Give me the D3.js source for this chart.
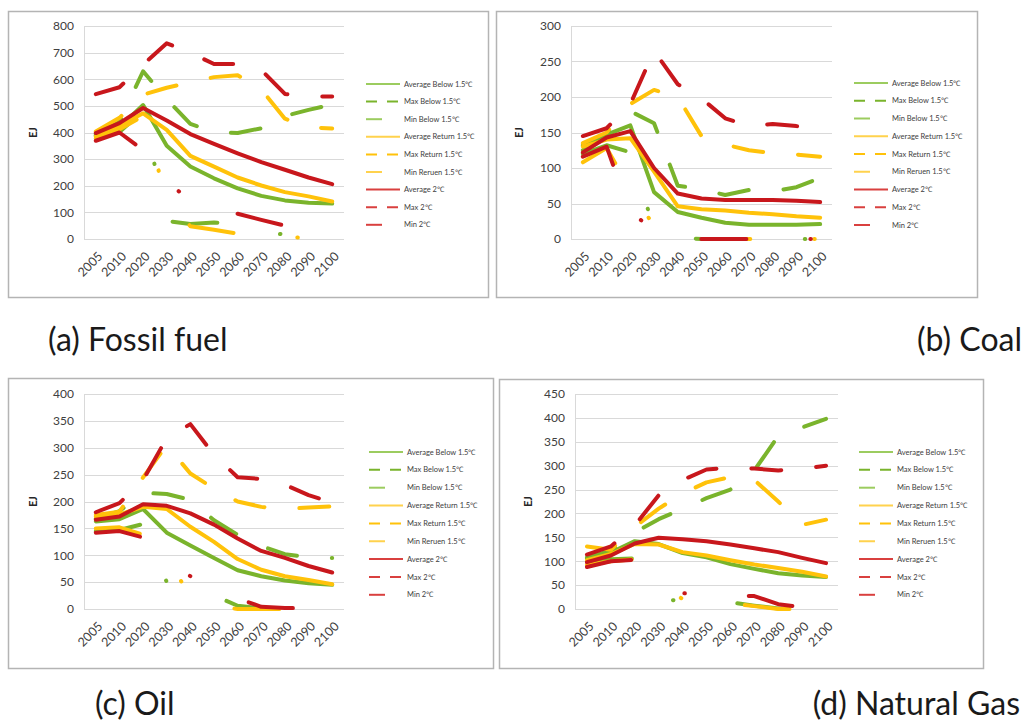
<!DOCTYPE html>
<html>
<head>
<meta charset="utf-8">
<script src="https://cdn.jsdelivr.net/npm/d3@7"></script>
<style>
  html, body { margin: 0; padding: 0; background: #fff; }
  svg { display: block; }
</style>
</head>
<body>
<script>
// ---------------- DATA ----------------
const years = ["2005","2010","2020","2030","2040","2050","2060","2070","2080","2090","2100"];

const seriesNames = [
  "Average Below 1.5℃", "Max Below 1.5℃", "Min Below 1.5℃",
  "Average Return 1.5℃", "Max Return 1.5℃", "Min Reruen 1.5℃",
  "Average 2℃", "Max 2℃", "Min 2℃"
];

// (a) Fossil fuel
const fossilTicks = [0,100,200,300,400,500,600,700,800];
const fossilAvgBelow  = [390, 420, 503, 350, 272, 228, 190, 162, 145, 136, 133];
const fossilMaxBelow  = [395, 440, 630, 525, 432, 402, 398, 416, 462, 485, 505];
const fossilMinBelow  = [388, 402, 480, 68, 56, 62, 58, 30, 16, 8, 4];
const fossilAvgReturn = [385, 425, 472, 410, 312, 272, 231, 201, 176, 160, 141];
const fossilMaxReturn = [404, 455, 542, 568, 588, 608, 615, 562, 452, 420, 415];
const fossilMinReturn = [378, 412, 462, 150, 48, 35, 20, 10, 7, 4, 2];
const fossilAvg2      = [398, 435, 492, 445, 394, 357, 322, 289, 260, 231, 206];
const fossilMax2      = [544, 570, 655, 735, 700, 657, 657, 635, 545, 535, 535];
const fossilMin2      = [369, 400, 334, 220, 140, 115, 95, 72, 50, 30, 20];

// (b) Coal
const coalTicks = [0,50,100,150,200,250,300];
const coalAvgBelow  = [125, 147, 160, 66, 38, 30, 23, 20, 20, 20, 21];
const coalMaxBelow  = [132, 148, 180, 163, 75, 70, 62, 69, 67, 73, 86];
const coalMinBelow  = [120, 132, 122, 14, 2, 0, 0, 0, 0, 0, 0];
const coalAvgReturn = [130, 140, 142, 95, 46, 42, 40, 37, 35, 32, 30];
const coalMaxReturn = [135, 150, 190, 210, 200, 145, 133, 125, 121, 119, 116];
const coalMinReturn = [108, 128, 70, 18, 0, 0, 0, 0, 0, 0, 0];
const coalAvg2      = [122, 143, 152, 100, 64, 57, 55, 55, 55, 54, 52];
const coalMax2      = [145, 156, 190, 265, 218, 198, 170, 159, 162, 159, 158];
const coalMin2      = [116, 130, 36, 15, 3, 0, 0, 0, 0, 0, 0];

// (c) Oil
const oilTicks = [0,50,100,150,200,250,300,350,400];
const oilAvgBelow  = [163, 167, 186, 142, 118, 95, 72, 61, 53, 48, 45];
const oilMaxBelow  = [168, 182, 216, 214, 203, 165, 138, 117, 102, 96, 95];
const oilMinBelow  = [145, 147, 158, 50, 35, 25, 6, 1, 0, 0, 0];
const oilAvgReturn = [172, 176, 190, 186, 153, 125, 93, 73, 61, 54, 46];
const oilMaxReturn = [175, 181, 245, 305, 252, 224, 200, 190, 186, 189, 191];
const oilMinReturn = [150, 152, 138, 98, 22, 5, 0, 0, 0, 0, 0];
const oilAvg2      = [166, 172, 195, 192, 178, 157, 131, 108, 95, 80, 68];
const oilMax2      = [180, 197, 240, 318, 344, 287, 245, 242, 231, 212, 198];
const oilMin2      = [142, 145, 133, 90, 61, 40, 20, 4, 2, 1, 0];

// (d) Natural Gas
const gasTicks = [0,50,100,150,200,250,300,350,400,450];
const gasAvgBelow  = [106, 118, 142, 136, 117, 108, 94, 84, 75, 70, 67];
const gasMaxBelow  = [108, 122, 160, 188, 210, 232, 250, 290, 362, 380, 398];
const gasMinBelow  = [100, 104, 106, 22, 16, 15, 14, 7, 1, 0, 0];
const gasAvgReturn = [102, 115, 136, 135, 119, 112, 102, 93, 86, 78, 68];
const gasMaxReturn = [131, 124, 172, 210, 242, 265, 276, 270, 225, 176, 187];
const gasMinReturn = [92, 100, 104, 50, 21, 18, 12, 6, 0, 0, 0];
const gasAvg2      = [98, 112, 137, 149, 146, 142, 135, 127, 119, 107, 96];
const gasMax2      = [114, 131, 175, 238, 270, 292, 296, 294, 290, 293, 300];
const gasMin2      = [88, 100, 103, 60, 33, 30, 29, 27, 10, 4, 2];

const captions = ["(a) Fossil fuel", "(b) Coal", "(c) Oil", "(d) Natural Gas"];

// ---------------- STYLE / LAYOUT ----------------
const GREEN = "#7ab42c", YELLOW = "#ffc20a", RED = "#c8171c";
const colors = [GREEN, GREEN, GREEN, YELLOW, YELLOW, YELLOW, RED, RED, RED];
const legendColors = ["#9ccc5f", "#7ab42c", "#9ccc5f", "#ffd24d", "#ffc20a", "#ffd24d", "#d9403f", "#d9403f", "#d9403f"];
const kinds  = ["avg","max","min","avg","max","min","avg","max","min"];
const dashPlot = { avg: null, max: "30,35", min: "45,64,0.5,64" };
const dashLegend = { avg: null, max: "11,10", min: null };
const legendLen = { avg: 34, max: 32, min: 16 };
const FONT = "Lato, 'Open Sans', sans-serif";

const panels = [
  { box:[8,11,488,297], plot:[84,26,344,239], ticks:fossilTicks, max:800, ejX:33,
    legend:[366,84,17.6],
    data:[fossilAvgBelow,fossilMaxBelow,fossilMinBelow,fossilAvgReturn,fossilMaxReturn,fossilMinReturn,fossilAvg2,fossilMax2,fossilMin2] },
  { box:[496,11,977,297], plot:[571,26,832,239], ticks:coalTicks, max:300, ejX:519,
    legend:[854,83,17.75],
    data:[coalAvgBelow,coalMaxBelow,coalMinBelow,coalAvgReturn,coalMaxReturn,coalMinReturn,coalAvg2,coalMax2,coalMin2] },
  { box:[8,378,493,668], plot:[84,394,344,609], ticks:oilTicks, max:400, ejX:33,
    legend:[369,452,17.85],
    data:[oilAvgBelow,oilMaxBelow,oilMinBelow,oilAvgReturn,oilMaxReturn,oilMinReturn,oilAvg2,oilMax2,oilMin2] },
  { box:[499,379,983,668], plot:[575,394,838,609], ticks:gasTicks, max:450, ejX:528,
    legend:[859,452,17.85],
    data:[gasAvgBelow,gasMaxBelow,gasMinBelow,gasAvgReturn,gasMaxReturn,gasMinReturn,gasAvg2,gasMax2,gasMin2] }
];

const W = 1025, H = 722;
const svg = d3.select("body").append("svg").attr("width", W).attr("height", H);
svg.append("rect").attr("width", W).attr("height", H).attr("fill", "#fff");

panels.forEach(p => {
  const g = svg.append("g");
  const [bx0, by0, bx1, by1] = p.box;
  const [px0, py0, px1, py1] = p.plot;

  g.append("rect")
    .attr("x", bx0 + 0.5).attr("y", by0 + 0.5)
    .attr("width", bx1 - bx0).attr("height", by1 - by0)
    .attr("fill", "#fff").attr("stroke", "#b4b4b4").attr("stroke-width", 1.5);

  const x = d3.scalePoint().domain(years).range([px0, px1]).padding(0.5);
  const y = d3.scaleLinear().domain([0, p.max]).range([py1, py0]);

  // gridlines
  g.append("g").selectAll("line").data(p.ticks).join("line")
    .attr("x1", px0).attr("x2", px1)
    .attr("y1", d => Math.round(y(d)) + 0.5).attr("y2", d => Math.round(y(d)) + 0.5)
    .attr("stroke", "#d9d9d9").attr("stroke-width", 1);
  g.append("line")
    .attr("x1", px0 + 0.5).attr("x2", px0 + 0.5).attr("y1", py0).attr("y2", py1)
    .attr("stroke", "#d9d9d9");

  // y axis labels
  const ya = g.append("g").attr("transform", `translate(${px0},0)`)
    .call(d3.axisLeft(y).tickValues(p.ticks).tickSize(0).tickPadding(10).tickFormat(d3.format("d")));
  ya.select(".domain").remove();
  ya.selectAll("text").attr("font-family", FONT).attr("font-size", 12).attr("fill", "#404040");

  // x axis labels
  const xa = g.append("g").attr("transform", `translate(0,${py1})`)
    .call(d3.axisBottom(x).tickSize(0).tickPadding(0));
  xa.select(".domain").remove();
  xa.selectAll("text")
    .attr("font-family", FONT).attr("font-size", 12.5).attr("fill", "#404040")
    .attr("text-anchor", "end").attr("dy", "0.35em")
    .attr("transform", "translate(4,15) rotate(-45)");

  // EJ label
  g.append("text")
    .attr("transform", `translate(${p.ejX},${(py0 + py1) / 2}) rotate(-90)`)
    .attr("text-anchor", "middle").attr("dy", "0.35em")
    .attr("font-family", FONT).attr("font-size", 10.5).attr("font-weight", "bold")
    .attr("fill", "#262626").text("EJ");

  // lines
  const line = d3.line().x((d, i) => x(years[i])).y(d => y(d));
  p.data.forEach((arr, k) => {
    g.append("path")
      .attr("d", line(arr))
      .attr("fill", "none")
      .attr("stroke", colors[k])
      .attr("stroke-width", 4)
      .attr("stroke-linejoin", "round")
      .attr("stroke-linecap", "round")
      .attr("stroke-dasharray", dashPlot[kinds[k]]);
  });

  // legend
  const [lx, ly, ls] = p.legend;
  seriesNames.forEach((name, k) => {
    const yy = ly + k * ls;
    g.append("line")
      .attr("x1", lx).attr("x2", lx + legendLen[kinds[k]])
      .attr("y1", yy).attr("y2", yy)
      .attr("stroke", legendColors[k]).attr("stroke-width", 2)
      .attr("stroke-dasharray", dashLegend[kinds[k]]);
    g.append("text")
      .attr("x", lx + 38).attr("y", yy).attr("dy", "0.35em")
      .attr("font-family", FONT).attr("font-size", 7.5).attr("fill", "#404040")
      .text(name);
  });
});

// captions
const capStyle = sel => sel.attr("font-family", FONT).attr("font-size", 32).attr("fill", "#1a1a1a");
svg.append("text").attr("x", 48).attr("y", 351).call(capStyle).text(captions[0]);
svg.append("text").attr("x", 1022).attr("y", 351).attr("text-anchor", "end").call(capStyle).text(captions[1]);
svg.append("text").attr("x", 95).attr("y", 715).call(capStyle).text(captions[2]);
svg.append("text").attr("x", 1020).attr("y", 715).attr("text-anchor", "end").call(capStyle).text(captions[3]);
</script>
</body>
</html>
